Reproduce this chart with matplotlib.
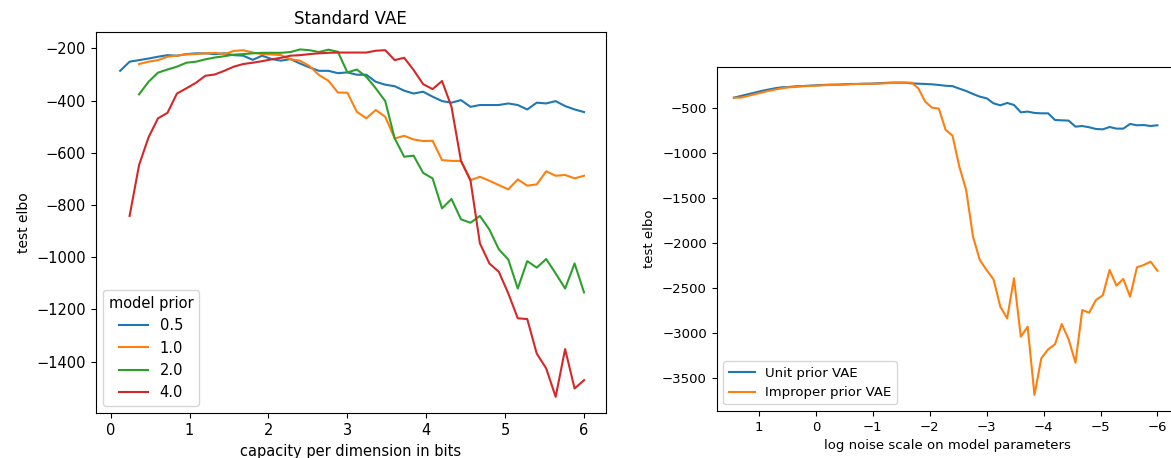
import matplotlib.pyplot as plt
import numpy as np

# left panel: capacity grid (bits per dimension)
capacity = np.arange(1, 51) * 0.12

elbo_05 = [-286, -251, -245, -239, -232, -226, -228, -222, -219, -219,
           -222, -219, -226, -228, -244, -228, -241, -247, -241, -258,
           -273, -286, -286, -295, -292, -301, -301, -328, -339, -345,
           -362, -373, -366, -385, -402, -408, -398, -424, -417, -417,
           -417, -411, -417, -434, -408, -411, -402, -421, -434, -444]
elbo_10 = [-260, -251, -245, -232, -228, -223, -222, -219, -217, -222,
           -210, -207, -216, -222, -223, -226, -242, -247, -268, -302,
           -324, -369, -370, -443, -468, -436, -462, -545, -535, -549,
           -555, -554, -628, -631, -631, -705, -692, -707, -724, -740,
           -702, -726, -721, -671, -688, -685, -698, -688]
elbo_20 = [-376, -328, -293, -281, -270, -255, -251, -242, -235, -230,
           -224, -222, -219, -217, -217, -217, -214, -204, -207, -214,
           -205, -213, -292, -281, -309, -353, -402, -545, -615, -611,
           -677, -698, -813, -777, -855, -868, -842, -894, -970, -1009,
           -1120, -1015, -1040, -1007, -1062, -1120, -1024, -1135]
elbo_40 = [-842, -647, -541, -468, -447, -373, -353, -332, -305, -300,
           -286, -270, -260, -255, -249, -242, -236, -228, -226, -222,
           -219, -217, -216, -216, -216, -216, -209, -207, -245, -236,
           -283, -337, -356, -325, -424, -631, -705, -947, -1024, -1056,
           -1139, -1234, -1237, -1369, -1426, -1535, -1352, -1503, -1471]
priors = ["0.5", "1.0", "2.0", "4.0"]

# right panel: log noise scale grid
log_noise = 1.44 - 0.12 * np.arange(63)

unit_prior = [-382, -364, -345, -327, -308, -293, -278, -267, -264, -256,
              -253, -249, -245, -241, -238, -238, -234, -230, -230, -227,
              -227, -223, -219, -215, -215, -215, -223, -227, -230, -234,
              -241, -250, -254, -282, -308, -341, -371, -389, -445, -467,
              -441, -463, -545, -537, -552, -556, -556, -630, -634, -637,
              -704, -697, -711, -730, -734, -708, -726, -726, -674, -689,
              -686, -697, -689]
improper_prior = [-382, -364, -345, -327, -308, -293, -278, -267, -264, -256,
                  -253, -249, -245, -241, -238, -238, -234, -230, -230, -227,
                  -227, -223, -219, -215, -215, -215, -278, -426, -493, -504,
                  -741, -804, -1149, -1408, -1926, -2186, -2297, -2400, -2704,
                  -2834, -2389, -3038, -2926, -3685, -3278, -3178, -3122,
                  -2897, -3067, -3326, -2741, -2771, -2630, -2578, -2296,
                  -2470, -2396, -2593, -2267, -2241, -2204, -2304]
improper_prior = [improper_prior[0]] + improper_prior

fig = plt.figure(figsize=(11.71, 4.58), dpi=100)

ax1 = fig.add_axes([0.0817, 0.0976, 0.4358, 0.8324])
ax1.plot(capacity, elbo_05, color="#1f77b4", lw=1.5, label=priors[0])
ax1.plot(capacity[2:], elbo_10, color="#ff7f0e", lw=1.5, label=priors[1])
ax1.plot(capacity[2:], elbo_20, color="#2ca02c", lw=1.5, label=priors[2])
ax1.plot(capacity[1:], elbo_40, color="#d62728", lw=1.5, label=priors[3])
ax1.set_xlim(-0.19, 6.278)
ax1.set_ylim(-1598, -137.5)
ax1.set_title("Standard VAE", fontsize=12)
ax1.set_xlabel("capacity per dimension in bits", fontsize=10.5)
ax1.set_ylabel("test elbo", fontsize=10)
ax1.tick_params(labelsize=10.5)
ax1.legend(title="model prior", loc="lower left", fontsize=10.5,
           title_fontsize=10.5)

ax2 = fig.add_axes([0.612, 0.1026, 0.3944, 0.7518])
ax2.plot(log_noise, unit_prior, color="#1f77b4", lw=1.5,
         label="Unit prior VAE")
ax2.plot(log_noise, improper_prior, color="#ff7f0e", lw=1.5,
         label="Improper prior VAE")
ax2.set_xlim(1.743, -6.37)
ax2.set_ylim(-3863, -38)
ax2.set_yticks([-500, -1000, -1500, -2000, -2500, -3000, -3500])
ax2.set_xlabel("log noise scale on model parameters", fontsize=9.5)
ax2.set_ylabel("test elbo", fontsize=9.5)
ax2.tick_params(labelsize=9.5)
ax2.legend(loc="lower left", fontsize=9.5)

plt.savefig("out.png")
